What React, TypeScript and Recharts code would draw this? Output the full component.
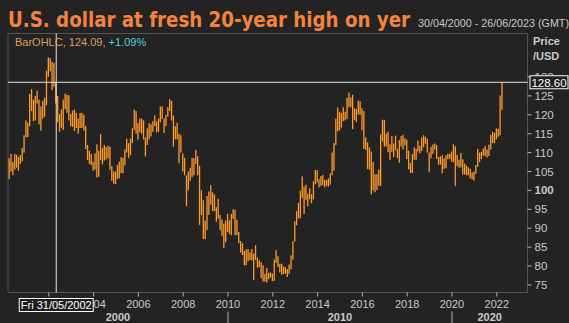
import React from "react";
import {
  ComposedChart,
  Bar,
  XAxis,
  YAxis,
  ReferenceLine,
  ReferenceArea,
} from "recharts";

// Monthly USD/JPY bars, April 2000 .. April 2022
const START_YEAR = 2000;
const START_MONTH = 4; // April

const highs: number[] = [
  // 2000 Apr-Dec
  108.5, 109.7, 107.5, 109.6, 109.4, 108.8, 109.3, 111.2, 114.6,
  // 2001
  118.5, 117.9, 125.5, 126.8, 124.0, 125.0, 126.4, 124.0, 122.2, 123.7, 124.5, 131.7,
  // 2002
  135.2, 135.0, 134.0, 133.7, 128.7, 125.0, 120.2, 121.4, 124.0, 125.6, 125.3, 125.2,
  // 2003
  120.2, 121.1, 121.4, 120.5, 119.0, 120.5, 120.5, 120.0, 117.0, 112.0, 110.5, 109.6,
  // 2004
  107.6, 109.8, 112.2, 110.5, 114.9, 111.2, 112.0, 111.5, 111.8, 111.6, 106.4, 105.0,
  // 2005
  105.0, 106.7, 107.6, 108.8, 108.6, 110.9, 113.7, 112.5, 113.7, 116.4, 121.4, 121.0,
  // 2006
  117.8, 119.0, 119.0, 118.5, 114.0, 116.4, 117.8, 117.5, 118.3, 119.9, 118.2, 119.0,
  // 2007
  122.2, 122.2, 119.0, 120.0, 122.0, 124.1, 123.7, 119.8, 117.0, 117.9, 115.0, 114.6,
  // 2008
  109.8, 108.6, 104.0, 105.0, 106.0, 108.6, 108.5, 110.7, 109.0, 106.5, 100.0, 97.4,
  // 2009
  92.0, 98.5, 99.7, 101.4, 99.5, 98.9, 95.6, 97.8, 93.5, 92.3, 91.2, 92.0,
  // 2010
  93.8, 92.1, 93.8, 95.0, 94.9, 92.2, 89.0, 86.6, 86.0, 84.0, 84.4, 84.5,
  // 2011
  83.6, 84.5, 83.3, 85.5, 82.2, 81.5, 81.0, 80.2, 77.9, 79.5, 78.2, 78.3,
  // 2012
  78.0, 81.7, 84.2, 82.6, 80.6, 80.6, 79.9, 79.7, 79.2, 80.4, 82.8, 86.6,
  // 2013
  91.8, 94.5, 96.7, 99.9, 103.7, 101.0, 101.5, 99.1, 100.6, 99.0, 102.4, 105.4,
  // 2014
  105.4, 103.0, 103.8, 104.1, 102.8, 102.8, 103.2, 104.5, 110.0, 112.5, 119.0, 121.9,
  // 2015
  120.8, 120.5, 122.0, 120.8, 124.5, 125.9, 124.6, 125.3, 121.7, 121.5, 123.8, 123.6,
  // 2016
  121.7, 121.0, 114.0, 112.7, 111.4, 110.3, 107.5, 104.3, 104.3, 105.5, 114.8, 118.7,
  // 2017
  118.6, 115.0, 115.5, 112.2, 114.4, 112.4, 114.5, 111.0, 113.3, 114.4, 114.7, 113.8,
  // 2018
  113.4, 110.5, 107.3, 109.6, 111.4, 111.0, 113.2, 111.8, 114.0, 114.6, 114.2, 113.7,
  // 2019
  110.0, 111.5, 112.1, 112.4, 112.0, 108.8, 109.0, 109.3, 108.5, 109.3, 109.7, 109.7,
  // 2020
  110.3, 112.2, 111.7, 109.4, 108.1, 109.9, 108.2, 107.1, 106.6, 106.1, 105.7, 104.7,
  // 2021
  105.0, 106.7, 111.0, 110.0, 110.2, 111.1, 111.7, 110.8, 112.1, 114.7, 115.5, 115.2,
  // 2022 Jan-Apr
  116.4, 116.3, 125.1, 128.6,
];

const lows: number[] = [
  // 2000 Apr-Dec
  103.0, 105.0, 104.0, 105.5, 106.0, 105.2, 107.0, 107.7, 110.0,
  // 2001
  114.0, 114.1, 117.0, 121.0, 118.3, 118.5, 123.0, 117.5, 115.8, 119.0, 119.5, 122.5,
  // 2002
  130.0, 131.5, 126.5, 127.4, 123.0, 118.0, 115.5, 116.5, 116.0, 121.5, 120.5, 118.5,
  // 2003
  117.0, 116.8, 115.7, 116.5, 115.0, 116.5, 116.5, 115.8, 110.9, 108.0, 107.0, 106.7,
  // 2004
  105.2, 105.5, 103.4, 103.6, 108.0, 106.9, 107.9, 108.2, 108.5, 105.5, 102.5, 101.8,
  // 2005
  101.7, 103.0, 103.2, 104.6, 104.5, 106.6, 110.0, 108.6, 109.3, 112.5, 116.0, 115.0,
  // 2006
  113.4, 115.4, 115.0, 113.5, 109.0, 112.0, 113.5, 114.3, 115.5, 117.0, 115.3, 115.5,
  // 2007
  118.0, 118.9, 115.2, 117.0, 119.5, 121.0, 118.5, 111.6, 113.5, 113.5, 107.2, 110.0,
  // 2008
  105.0, 104.0, 95.8, 100.0, 102.5, 103.5, 104.0, 107.0, 104.0, 90.9, 93.5, 87.1,
  // 2009
  87.1, 89.5, 93.5, 96.2, 94.5, 94.5, 91.7, 92.5, 89.5, 88.0, 84.8, 86.3,
  // 2010
  89.0, 88.5, 88.1, 92.5, 88.1, 88.2, 86.0, 83.6, 82.9, 80.2, 80.2, 81.3,
  // 2011
  81.6, 81.5, 76.3, 81.6, 79.6, 79.7, 76.8, 75.9, 75.9, 75.6, 76.5, 77.0,
  // 2012
  76.0, 76.1, 80.8, 79.7, 78.3, 77.7, 77.9, 77.9, 77.1, 77.9, 79.1, 81.7,
  // 2013
  86.5, 90.8, 92.6, 92.6, 97.9, 93.8, 97.5, 95.8, 97.7, 96.6, 97.6, 101.6,
  // 2014
  102.1, 100.8, 101.2, 101.4, 100.8, 101.2, 101.0, 101.5, 104.0, 105.2, 112.0, 115.6,
  // 2015
  115.9, 116.6, 118.3, 118.5, 118.9, 122.0, 122.0, 116.2, 118.6, 118.1, 120.1, 120.0,
  // 2016
  115.9, 111.0, 110.7, 105.6, 105.5, 98.9, 100.0, 99.5, 100.1, 101.2, 101.2, 112.9,
  // 2017
  111.6, 111.6, 110.1, 108.1, 110.2, 108.8, 110.6, 108.6, 107.3, 111.6, 110.8, 111.9,
  // 2018
  108.3, 105.6, 104.6, 104.6, 108.1, 108.1, 110.3, 109.8, 110.4, 111.4, 112.3, 110.0,
  // 2019
  104.8, 108.5, 109.7, 110.8, 108.3, 106.8, 106.8, 104.5, 105.7, 105.9, 108.2, 108.4,
  // 2020
  107.6, 107.5, 101.2, 106.4, 106.0, 106.1, 104.2, 104.2, 104.0, 104.0, 103.2, 102.9,
  // 2021
  102.6, 104.4, 106.2, 107.5, 108.3, 109.2, 109.1, 108.7, 109.1, 110.8, 112.5, 112.5,
  // 2022 Jan-Apr
  113.5, 114.2, 114.6, 121.3,
];

const yearTicks = [2002, 2004, 2006, 2008, 2010, 2012, 2014, 2016, 2018, 2020, 2022];
const priceTicks = [75, 80, 85, 90, 95, 100, 105, 110, 115, 120, 125, 130];
const decadeSeparators = [2010, 2020];
const decadeLabels = ["2000", "2010", "2020"];

const X_MIN = 2000.18;
const X_MAX = 2023.37;
const Y_MIN = 73.0;
const Y_MAX = 141.5;

const cursorDate = 2002 + 4 / 12; // May 2002 bar
const cursorDateLabel = "Fri 31/05/2002";
const cursorPrice = 128.6;
const cursorPriceLabel = "128.60";

const title = "U.S. dollar at fresh 20-year high on yer";
const dateRange = "30/04/2000 - 26/06/2023 (GMT)";

const data = highs.map((h, i) => ({
  t: START_YEAR + (START_MONTH - 1 + i) / 12,
  hl: [lows[i], h],
}));

// decade label centres between separators / plot edges
const decadeEdges = [X_MIN, ...decadeSeparators, X_MAX];
const decadeCenters = decadeLabels.map((_, i) => (decadeEdges[i] + decadeEdges[i + 1]) / 2);
// order matters: cursor box is drawn last so it covers labels beneath it
const xTicks = [...yearTicks, ...decadeCenters, cursorDate];
const yTicks = [...priceTicks, cursorPrice];

const FONT = "'Liberation Sans', Arial, sans-serif";
const BAR_COLOR = "#ff9a2a";
const TEXT = "#c9c9c9";
const FRAME = "#555555";
const TICK = "#b5b5b5";

const BarShape = (props: any) => {
  const { x, y, width, height } = props;
  if (x == null || y == null) return null;
  const top = Math.min(y, y + height);
  const h = Math.max(1, Math.abs(height));
  const w = 1.3;
  return <rect x={x + width / 2 - w / 2} y={top} width={w} height={h} fill={BAR_COLOR} />;
};

const near = (a: number, b: number) => Math.abs(a - b) < 1e-6;

const XTick = (props: any) => {
  const { x, y, payload } = props;
  const v = payload.value;
  if (near(v, cursorDate)) {
    const w = 74;
    return (
      <g>
        <rect x={x - w / 2} y={y + 6} width={w} height={13} fill="#1e1e1e" stroke="#ffffff" strokeWidth={1} />
        <text x={x} y={y + 16.5} textAnchor="middle" fill="#ffffff" fontSize={11} fontFamily={FONT}>
          {cursorDateLabel}
        </text>
      </g>
    );
  }
  const dIdx = decadeCenters.findIndex((c) => near(c, v));
  if (dIdx >= 0) {
    return (
      <text x={x} y={y + 28} textAnchor="middle" fill={TEXT} fontSize={11} fontWeight="bold" fontFamily={FONT}>
        {decadeLabels[dIdx]}
      </text>
    );
  }
  const isSep = decadeSeparators.includes(v);
  return (
    <g>
      <line x1={x} x2={x} y1={y} y2={y + 4} stroke={TICK} strokeWidth={1} />
      {isSep && <line x1={x} x2={x} y1={y + 19} y2={y + 31} stroke={TICK} strokeWidth={1} />}
      <text x={x} y={y + 15} textAnchor="middle" fill={TEXT} fontSize={11} fontFamily={FONT}>
        {String(v)}
      </text>
    </g>
  );
};

const YTick = (props: any) => {
  const { x, y, payload } = props;
  const v = payload.value;
  if (near(v, cursorPrice)) {
    return (
      <g>
        <rect x={x + 2.5} y={y - 6.5} width={38} height={13} fill="#1e1e1e" stroke="#ffffff" strokeWidth={1} />
        <text x={x + 21.5} y={y + 4.3} textAnchor="middle" fill="#ffffff" fontSize={11.5} fontFamily={FONT}>
          {cursorPriceLabel}
        </text>
      </g>
    );
  }
  return (
    <g>
      <line x1={x} x2={x + 4} y1={y} y2={y} stroke={TICK} strokeWidth={1} />
      <text
        x={x + 7}
        y={y + 4}
        textAnchor="start"
        fill={TEXT}
        fontSize={11.5}
        fontWeight={v === 100 ? "bold" : "normal"}
        fontFamily={FONT}
      >
        {String(v)}
      </text>
    </g>
  );
};

export default function App() {
  return (
    <div
      style={{
        position: "fixed",
        left: 0,
        top: 0,
        width: 569,
        height: 323,
        background: "#232323",
        overflow: "hidden",
      }}
    >
      <ComposedChart
        width={569}
        height={323}
        data={data}
        margin={{ top: 33.5, right: 0, bottom: 0, left: 8 }}
      >
        <XAxis
          xAxisId={0}
          dataKey="t"
          type="number"
          domain={[X_MIN, X_MAX]}
          allowDataOverflow
          ticks={xTicks}
          interval={0}
          height={30.5}
          axisLine={false}
          tickLine={false}
          tickSize={0}
          tickMargin={0}
          tick={<XTick />}
        />
        <YAxis
          orientation="right"
          type="number"
          domain={[Y_MIN, Y_MAX]}
          allowDataOverflow
          ticks={yTicks}
          interval={0}
          width={41.5}
          axisLine={false}
          tickLine={false}
          tickSize={0}
          tickMargin={0}
          tick={<YTick />}
        />
        <ReferenceArea
          xAxisId={0}
          x1={X_MIN}
          x2={X_MAX}
          y1={Y_MIN}
          y2={Y_MAX}
          fill="none"
          stroke={FRAME}
          strokeWidth={1}
          ifOverflow="visible"
        />
        <Bar
          xAxisId={0}
          dataKey="hl"
          barSize={1}
          shape={<BarShape />}
          isAnimationActive={false}
        />
        <ReferenceLine xAxisId={0} x={cursorDate} stroke="#e6e6e6" strokeWidth={1} />
        <ReferenceLine xAxisId={0} y={cursorPrice} stroke="#e6e6e6" strokeWidth={1} />
      </ComposedChart>
      <svg
        width={569}
        height={323}
        style={{ position: "absolute", left: 0, top: 0, pointerEvents: "none" }}
      >
        <text
          x={8}
          y={27}
          fill="#f5833c"
          fontSize={21}
          fontWeight="bold"
          fontFamily="'DejaVu Sans', sans-serif"
          textLength={402}
          lengthAdjust="spacingAndGlyphs"
        >
          {title}
        </text>
        <text x={418} y={27} fill={TEXT} fontSize={11.5} fontFamily={FONT} textLength={151} lengthAdjust="spacingAndGlyphs">
          {dateRange}
        </text>
        <text x={15} y={46} fontSize={11} fontFamily={FONT}>
          <tspan fill="#d9a063">BarOHLC, 124.09, </tspan>
          <tspan fill="#4fd2d6">+1.09%</tspan>
        </text>
        <text x={533} y={45} fill={TEXT} fontSize={11} fontWeight="bold" fontFamily={FONT}>
          Price
        </text>
        <text x={533} y={60} fill={TEXT} fontSize={11} fontWeight="bold" fontFamily={FONT}>
          /USD
        </text>
      </svg>
    </div>
  );
}
